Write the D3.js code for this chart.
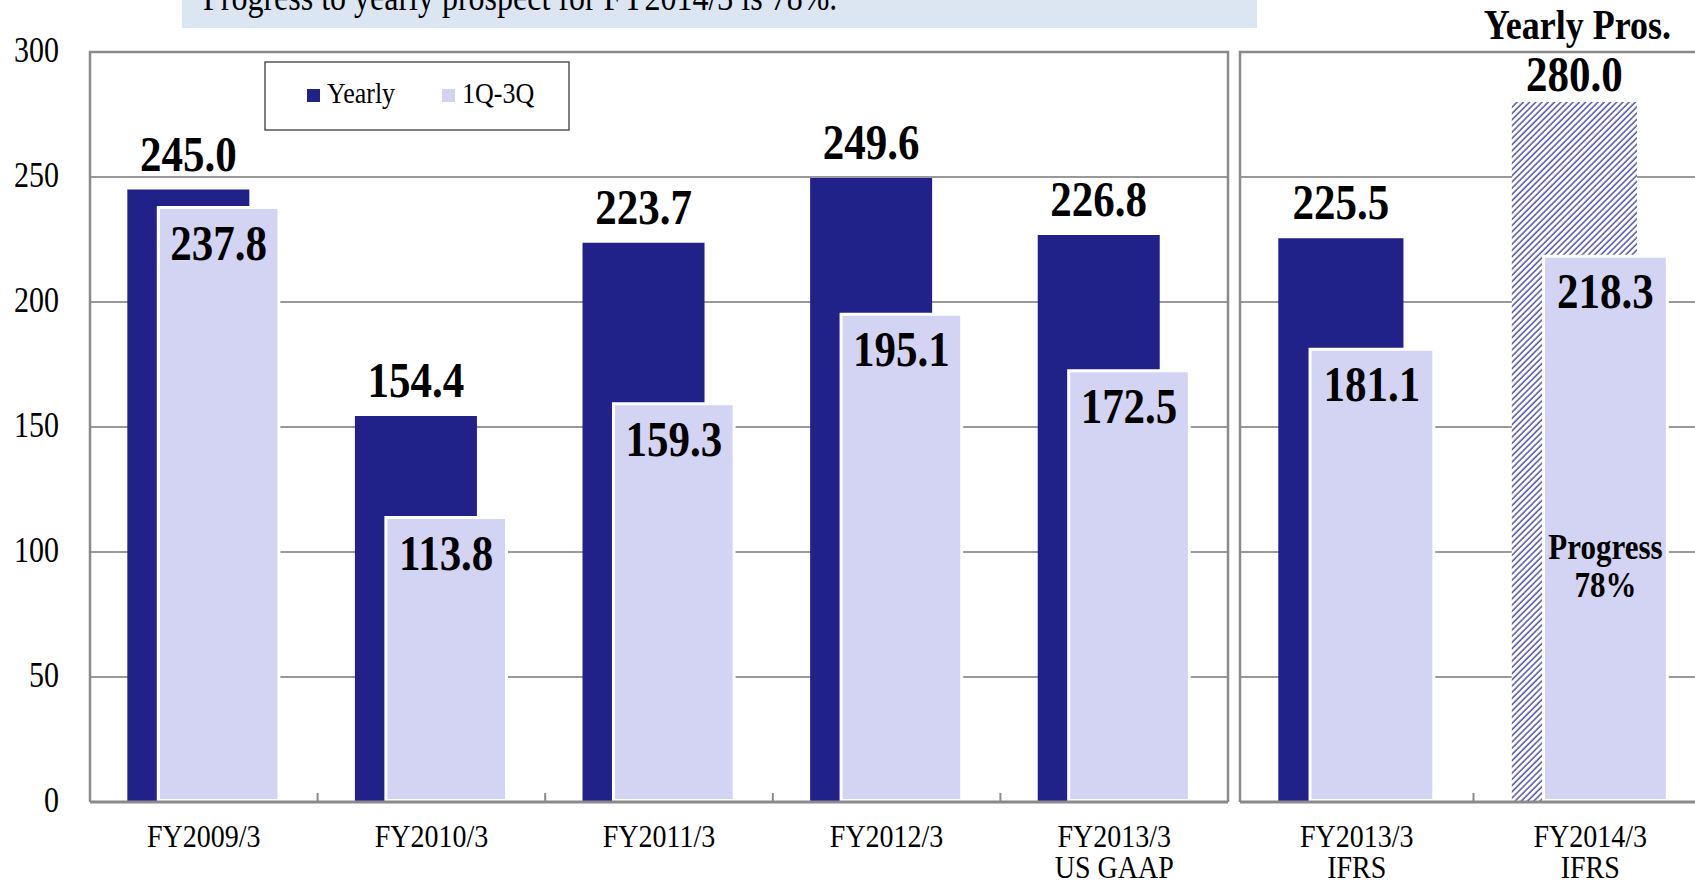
<!DOCTYPE html>
<html>
<head>
<meta charset="utf-8">
<script src="https://cdn.jsdelivr.net/npm/d3@7"></script>
<style>
  html, body { margin: 0; padding: 0; background: #fff; overflow: hidden; }
  svg { display: block; }
  text { font-family: "Liberation Serif", "Times New Roman", serif; fill: #000; }
</style>
</head>
<body>
<div id="chart"></div>
<script>
// data
const categories = ["FY2009/3", "FY2010/3", "FY2011/3", "FY2012/3", "FY2013/3", "FY2013/3", "FY2014/3"];
const subLabels = ["", "", "", "", "US GAAP", "IFRS", "IFRS"];
const panelOf = [0, 0, 0, 0, 0, 1, 1];
const yearly = [245.0, 154.4, 223.7, 249.6, 226.8, 225.5, 280.0];
const q1q3 = [237.8, 113.8, 159.3, 195.1, 172.5, 181.1, 218.3];
const isProspect = [false, false, false, false, false, false, true];
const yTicks = [0, 50, 100, 150, 200, 250, 300];
const legendLabels = ["Yearly", "1Q-3Q"];
const headline = "Progress to yearly prospect for FY2014/3 is 78%.";
const progressText = ["Progress", "78%"];

const width = 1695, height = 883;
const dark = "#21218a", light = "#d3d3f3", gridCol = "#999", frameCol = "#8a8a8a";
const SY = 1.17; // text in the source is a bit stretched vertically

const rows = categories.map((c, i) => ({
  key: c + "|" + subLabels[i], cat: c, sub: subLabels[i], panel: panelOf[i],
  yearly: yearly[i], q: q1q3[i], prospect: isProspect[i]
}));

const svg = d3.select("#chart").append("svg")
  .attr("width", width).attr("height", height);

const defs = svg.append("defs");
const pat = defs.append("pattern")
  .attr("id", "hatch")
  .attr("patternUnits", "userSpaceOnUse")
  .attr("width", 4.4).attr("height", 4.4)
  .attr("patternTransform", "rotate(45)");
pat.append("rect").attr("width", 4.4).attr("height", 4.4).attr("fill", "#fff");
pat.append("line").attr("x1", 1).attr("y1", 0).attr("x2", 1).attr("y2", 4.4)
  .attr("stroke", "#3838a4").attr("stroke-width", 1.3);

const y = d3.scaleLinear().domain([0, 300]).range([802, 52]);

const panels = [
  { x0: 90, x1: 1228, closed: true },
  { x0: 1240, x1: 1707, closed: false }
];
panels.forEach((p, pi) => {
  p.x = d3.scaleBand()
    .domain(rows.filter(r => r.panel === pi).map(r => r.key))
    .range([p.x0, p.x1]).padding(0);
});

function sText(g, x, yy, str, size, weight, anchor, sy) {
  return g.append("text")
    .attr("transform", `translate(${x},${yy}) scale(1,${sy || SY})`)
    .attr("font-size", size)
    .attr("font-weight", weight || "normal")
    .attr("text-anchor", anchor || "middle")
    .text(str);
}

// headline box at top (cut off)
svg.append("rect").attr("x", 182).attr("y", -10).attr("width", 1075).attr("height", 38)
  .attr("fill", "#dce6f2");
sText(svg, 203, 10, headline, 32, "normal", "start");

// gridlines + frames
panels.forEach(p => {
  const g = svg.append("g");
  g.selectAll("line.grid").data(yTicks.filter(t => t > 0 && t < 300)).enter()
    .append("line").attr("class", "grid")
    .attr("x1", p.x0).attr("x2", p.x1)
    .attr("y1", d => y(d)).attr("y2", d => y(d))
    .attr("stroke", gridCol).attr("stroke-width", 2);
  const path = p.closed
    ? `M${p.x0},${y(0)}V${y(300)}H${p.x1}V${y(0)}`
    : `M${p.x1},${y(300)}H${p.x0}V${y(0)}`;
  g.append("path").attr("d", path).attr("fill", "none")
    .attr("stroke", frameCol).attr("stroke-width", 2.5);
});

// bars
rows.forEach(r => {
  const sc = panels[r.panel].x;
  const bw = sc.bandwidth();
  const x0 = sc(r.key);
  const g = svg.append("g");
  const dx = x0 + bw * 0.164, dw = bw * 0.536;
  const lx = x0 + bw * 0.3, lw = bw * 0.53;
  g.append("rect")
    .attr("x", dx).attr("y", y(r.yearly))
    .attr("width", dw).attr("height", y(0) - y(r.yearly))
    .attr("fill", r.prospect ? "url(#hatch)" : dark);
  g.append("rect")
    .attr("x", lx).attr("y", y(r.q))
    .attr("width", lw).attr("height", y(0) - y(r.q) - 1.5)
    .attr("fill", light).attr("stroke", "#fff").attr("stroke-width", 3);
  sText(g, dx + dw / 2, y(r.yearly) - (r.prospect ? 11 : 19), r.yearly.toFixed(1), 43, "bold");
  sText(g, lx + lw / 2, y(r.q) + 52, r.q.toFixed(1), 43, "bold");
  if (r.prospect) {
    sText(g, lx + lw / 2, 559, progressText[0], 31, "bold");
    sText(g, lx + lw / 2, 597, progressText[1], 31, "bold");
    sText(g, width - 24, 39, "Yearly Pros.", 36, "bold", "end");
  }
  // x labels
  sText(g, x0 + bw / 2, 847, r.cat, 28, "normal", "middle", 1.1);
  if (r.sub) sText(g, x0 + bw / 2, 878, r.sub, 28, "normal", "middle", 1.1);
});

// baseline + category ticks
panels.forEach((p, pi) => {
  const keys = p.x.domain();
  svg.append("line").attr("x1", p.x0).attr("x2", Math.min(p.x1, width))
    .attr("y1", y(0)).attr("y2", y(0))
    .attr("stroke", frameCol).attr("stroke-width", 3);
  svg.selectAll(null).data(keys.slice(1)).enter().append("line")
    .attr("x1", d => p.x(d)).attr("x2", d => p.x(d))
    .attr("y1", y(0)).attr("y2", y(0) - 9)
    .attr("stroke", frameCol).attr("stroke-width", 2);
});

// y axis labels
const yl = svg.append("g");
yTicks.forEach(t => sText(yl, 59, y(t) + 10, String(t), 30, "normal", "end"));

// legend
const lg = svg.append("g");
lg.append("rect").attr("x", 265).attr("y", 62).attr("width", 304).attr("height", 68)
  .attr("fill", "#fff").attr("stroke", "#555").attr("stroke-width", 1.5);
[dark, light].forEach((c, i) => {
  const lx0 = i === 0 ? 307 : 442;
  lg.append("rect").attr("x", lx0).attr("y", 89).attr("width", 13).attr("height", 13).attr("fill", c);
  sText(lg, lx0 + 20, 103, legendLabels[i], 26, "normal", "start");
});
</script>
</body>
</html>
